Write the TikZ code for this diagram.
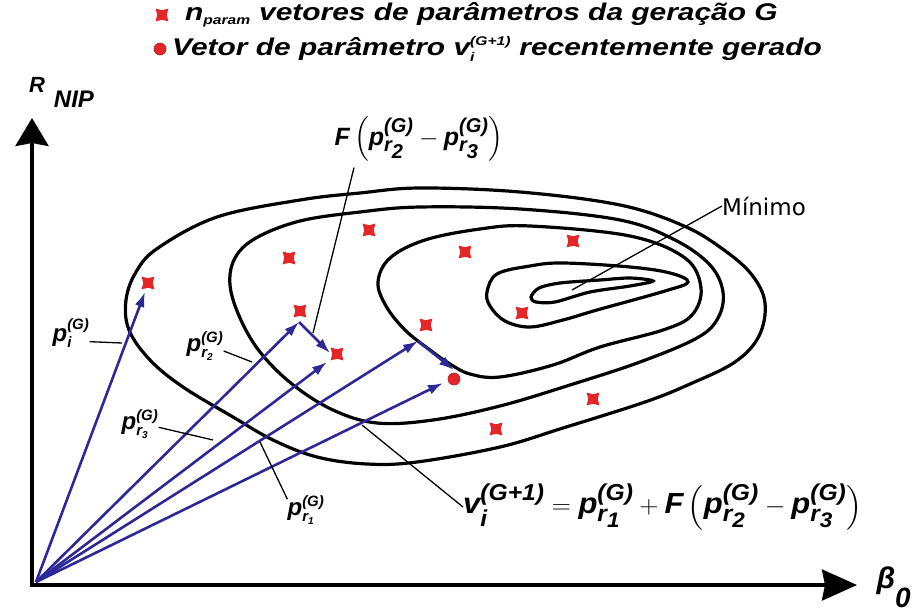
\documentclass[tikz,border=0pt]{standalone}
\usepackage{fontspec}
\usepackage{amsmath}
\usepackage{graphicx}
\setmainfont{Liberation Sans}
\newfontfamily\verd{DejaVu Sans}
\usetikzlibrary{arrows.meta,shapes.geometric}
\DeclareMathSizes{23}{23}{12}{9}
\DeclareMathSizes{24}{24}{15}{10}
\DeclareMathSizes{25}{25}{20}{20}
\DeclareMathSizes{29}{29}{23}{21}
\definecolor{vblue}{RGB}{45,40,150}
\definecolor{xred}{RGB}{228,38,38}
\newcommand\pG[1]{\text{p}^{\text{(G)}}_{#1}}
\begin{document}
\begin{tikzpicture}[x=1pt,y=-1pt,
  axis/.style={line width=3.5pt, line join=miter},
  contour/.style={line width=3.2pt},
  vec/.style={vblue, line width=2.6pt, -{Latex[length=15pt,width=10pt]}},
  lead/.style={line width=1.3pt},
  xmk/.style={star, star points=4, star point ratio=1.9, shape border rotate=45, fill=xred, minimum size=18pt, inner sep=0pt},
  omk/.style={circle, fill=xred, draw=xred!80!black, line width=0.6pt, minimum size=12pt, inner sep=0pt},
  lbl/.style={font=\fontsize{24}{28}\selectfont\bfseries\itshape, inner sep=0pt},
  leg/.style={font=\fontsize{23}{28}\selectfont\bfseries\itshape, inner sep=0pt, anchor=west},
  ax/.style={font=\fontsize{22}{26}\selectfont\bfseries\itshape, inner sep=0pt}
]
\useasboundingbox (0,0) rectangle (919,613);

% axes
\coordinate (ax0) at (32,585);
\coordinate (ytop) at (32,118);
\coordinate (xend) at (857,585);
\draw[axis, {Stealth[length=28pt,width=33pt,inset=3pt]}-{Stealth[length=35pt,width=31pt,inset=3pt]}] (ytop) -- (ax0) -- (xend);
\node[ax] (R) at (37,85) {R};
\node[ax, font=\fontsize{24}{28}\selectfont\bfseries\itshape] (NIP) at (74,99) {NIP};
\node[ax, font=\fontsize{30}{34}\selectfont\bfseries\itshape] (beta) at (886,581) {β};
\node[ax, font=\fontsize{28}{32}\selectfont\bfseries\itshape] (zero) at (903,598) {0};

% contours
\draw[contour] plot[smooth cycle, tension=0.6] coordinates {
 (765,303) (759,336) (735,362) (690,384) (645,402) (563,428) (500,447) (417,462)
 (367,464) (317,457) (273,440) (233,417) (183,387) (150,360) (129,330) (126,300)
 (136,272) (158,248) (217,217) (300,200) (360,193) (420,188) (520,192) (620,205)
 (684,226) (724,250) (752,275)};
\draw[contour] plot[smooth cycle, tension=0.6] coordinates {
 (230,285) (235,258) (256,238) (300,221) (360,212) (420,207) (520,209) (620,220)
 (675,240) (710,265) (723,292) (718,318) (697,338) (640,362) (570,385) (500,406)
 (433,420) (377,423) (333,410) (292,384) (260,352) (240,318)};
\draw[contour] plot[smooth cycle, tension=0.6] coordinates {
 (378,282) (390,258) (425,240) (480,229) (530,226) (630,236) (685,258) (701,288)
 (692,315) (663,330) (600,347) (553,365) (500,377) (470,374) (450,364) (430,350)
 (405,330) (386,306)};
\draw[contour] plot[smooth cycle, tension=0.6] coordinates {
 (487,292) (497,274) (530,266) (563,263) (630,267) (670,273) (688,282) (665,291)
 (597,310) (563,320) (530,327) (505,321) (490,306)};
\draw[contour] plot[smooth cycle, tension=0.5] coordinates {
 (531,297) (539,288) (560,283) (600,280) (630,278) (653,281) (630,286) (590,292)
 (555,302) (536,302)};

% vectors
\coordinate (O) at (36,582);
\coordinate (a1) at (145,292);
\coordinate (a2) at (299,322);
\coordinate (a2b) at (330,353);
\coordinate (a3) at (327,362);
\coordinate (a4) at (418,341);
\coordinate (a4b) at (454,370);
\coordinate (a5) at (443,383);
\draw[vec] (O) -- (a1);
\draw[vec] (O) -- (a2);
\draw[vec] (a2) -- (a2b);
\draw[vec] (O) -- (a3);
\draw[vec] (O) -- (a4);
\draw[vec] (a4) -- (a4b);
\draw[vec] (O) -- (a5);

% markers
\node[xmk] (m1) at (148,283) {};
\node[xmk] (m2) at (289,258) {};
\node[xmk] (m3) at (369,230) {};
\node[xmk] (m4) at (465,252) {};
\node[xmk] (m5) at (573,241) {};
\node[xmk] (m6) at (300,311) {};
\node[xmk] (m7) at (337,354) {};
\node[xmk] (m8) at (426,325) {};
\node[xmk] (m9) at (522,313) {};
\node[xmk] (m10) at (593,399) {};
\node[xmk] (m11) at (496,429) {};
\node[omk] (v) at (454,379) {};

% legend
\node[xmk] (lm1) at (162,15) {};
\node[leg] (lt1) at (185,15) {\scalebox{1.3}[1.05]{$\text{n}_{\text{param}}$ vetores de parâmetros da geração G}};
\node[omk] (lm2) at (160,49) {};
\node[leg] (lt2) at (172,49) {\scalebox{1.3}[1.05]{Vetor de parâmetro $\text{v}^{\text{(G+1)}}_{\text{i}}$ recentemente gerado}};

% labels
\node[lbl] (Lpi) at (71,333) {$\pG{\text{i}}$};
\node[lbl] (Lr2) at (205,346) {$\pG{\text{r}_{\text{2}}}$};
\node[lbl] (Lr3) at (140,424) {$\pG{\text{r}_{\text{3}}}$};
\node[lbl] (Lr1) at (306,510) {$\pG{\text{r}_{\text{1}}}$};
\node[lbl, font=\fontsize{25}{30}\selectfont\bfseries\itshape] (LF) at (419,139)
  {$\text{F}\left(\pG{\text{r}_{\text{2}}} - \pG{\text{r}_{\text{3}}}\right)$};
\node[lbl, font=\fontsize{29}{34}\selectfont\bfseries\itshape, anchor=west] (Lv) at (463,507)
  {\scalebox{1.07}[1]{$\text{v}^{\text{(G+1)}}_{\text{i}} = \pG{\text{r}_{\text{1}}} + \text{F}\left(\pG{\text{r}_{\text{2}}} - \pG{\text{r}_{\text{3}}}\right)$}};
\node[inner sep=0pt, font=\fontsize{23}{27}\selectfont\verd] (Lmin) at (764,206) {Mínimo};

% leaders
\coordinate (lpi) at (122,343);
\coordinate (lr2) at (252,362);
\coordinate (lr3) at (213,440);
\coordinate (lr1) at (260,442);
\coordinate (lF) at (313,333);
\coordinate (lv) at (362,425);
\coordinate (lmin) at (572,290);
\draw[lead] (Lpi.-25) -- (lpi);
\draw[lead] (Lr2.-15) -- (lr2);
\draw[lead] (Lr3.-10) -- (lr3);
\draw[lead] (Lr1.150) -- (lr1);
\draw[lead] ([xshift=-65pt,yshift=-6pt]LF.south) -- (lF);
\draw[lead] (Lv.west) -- (lv);
\draw[lead] (Lmin.west) -- (lmin);
\end{tikzpicture}
\end{document}
